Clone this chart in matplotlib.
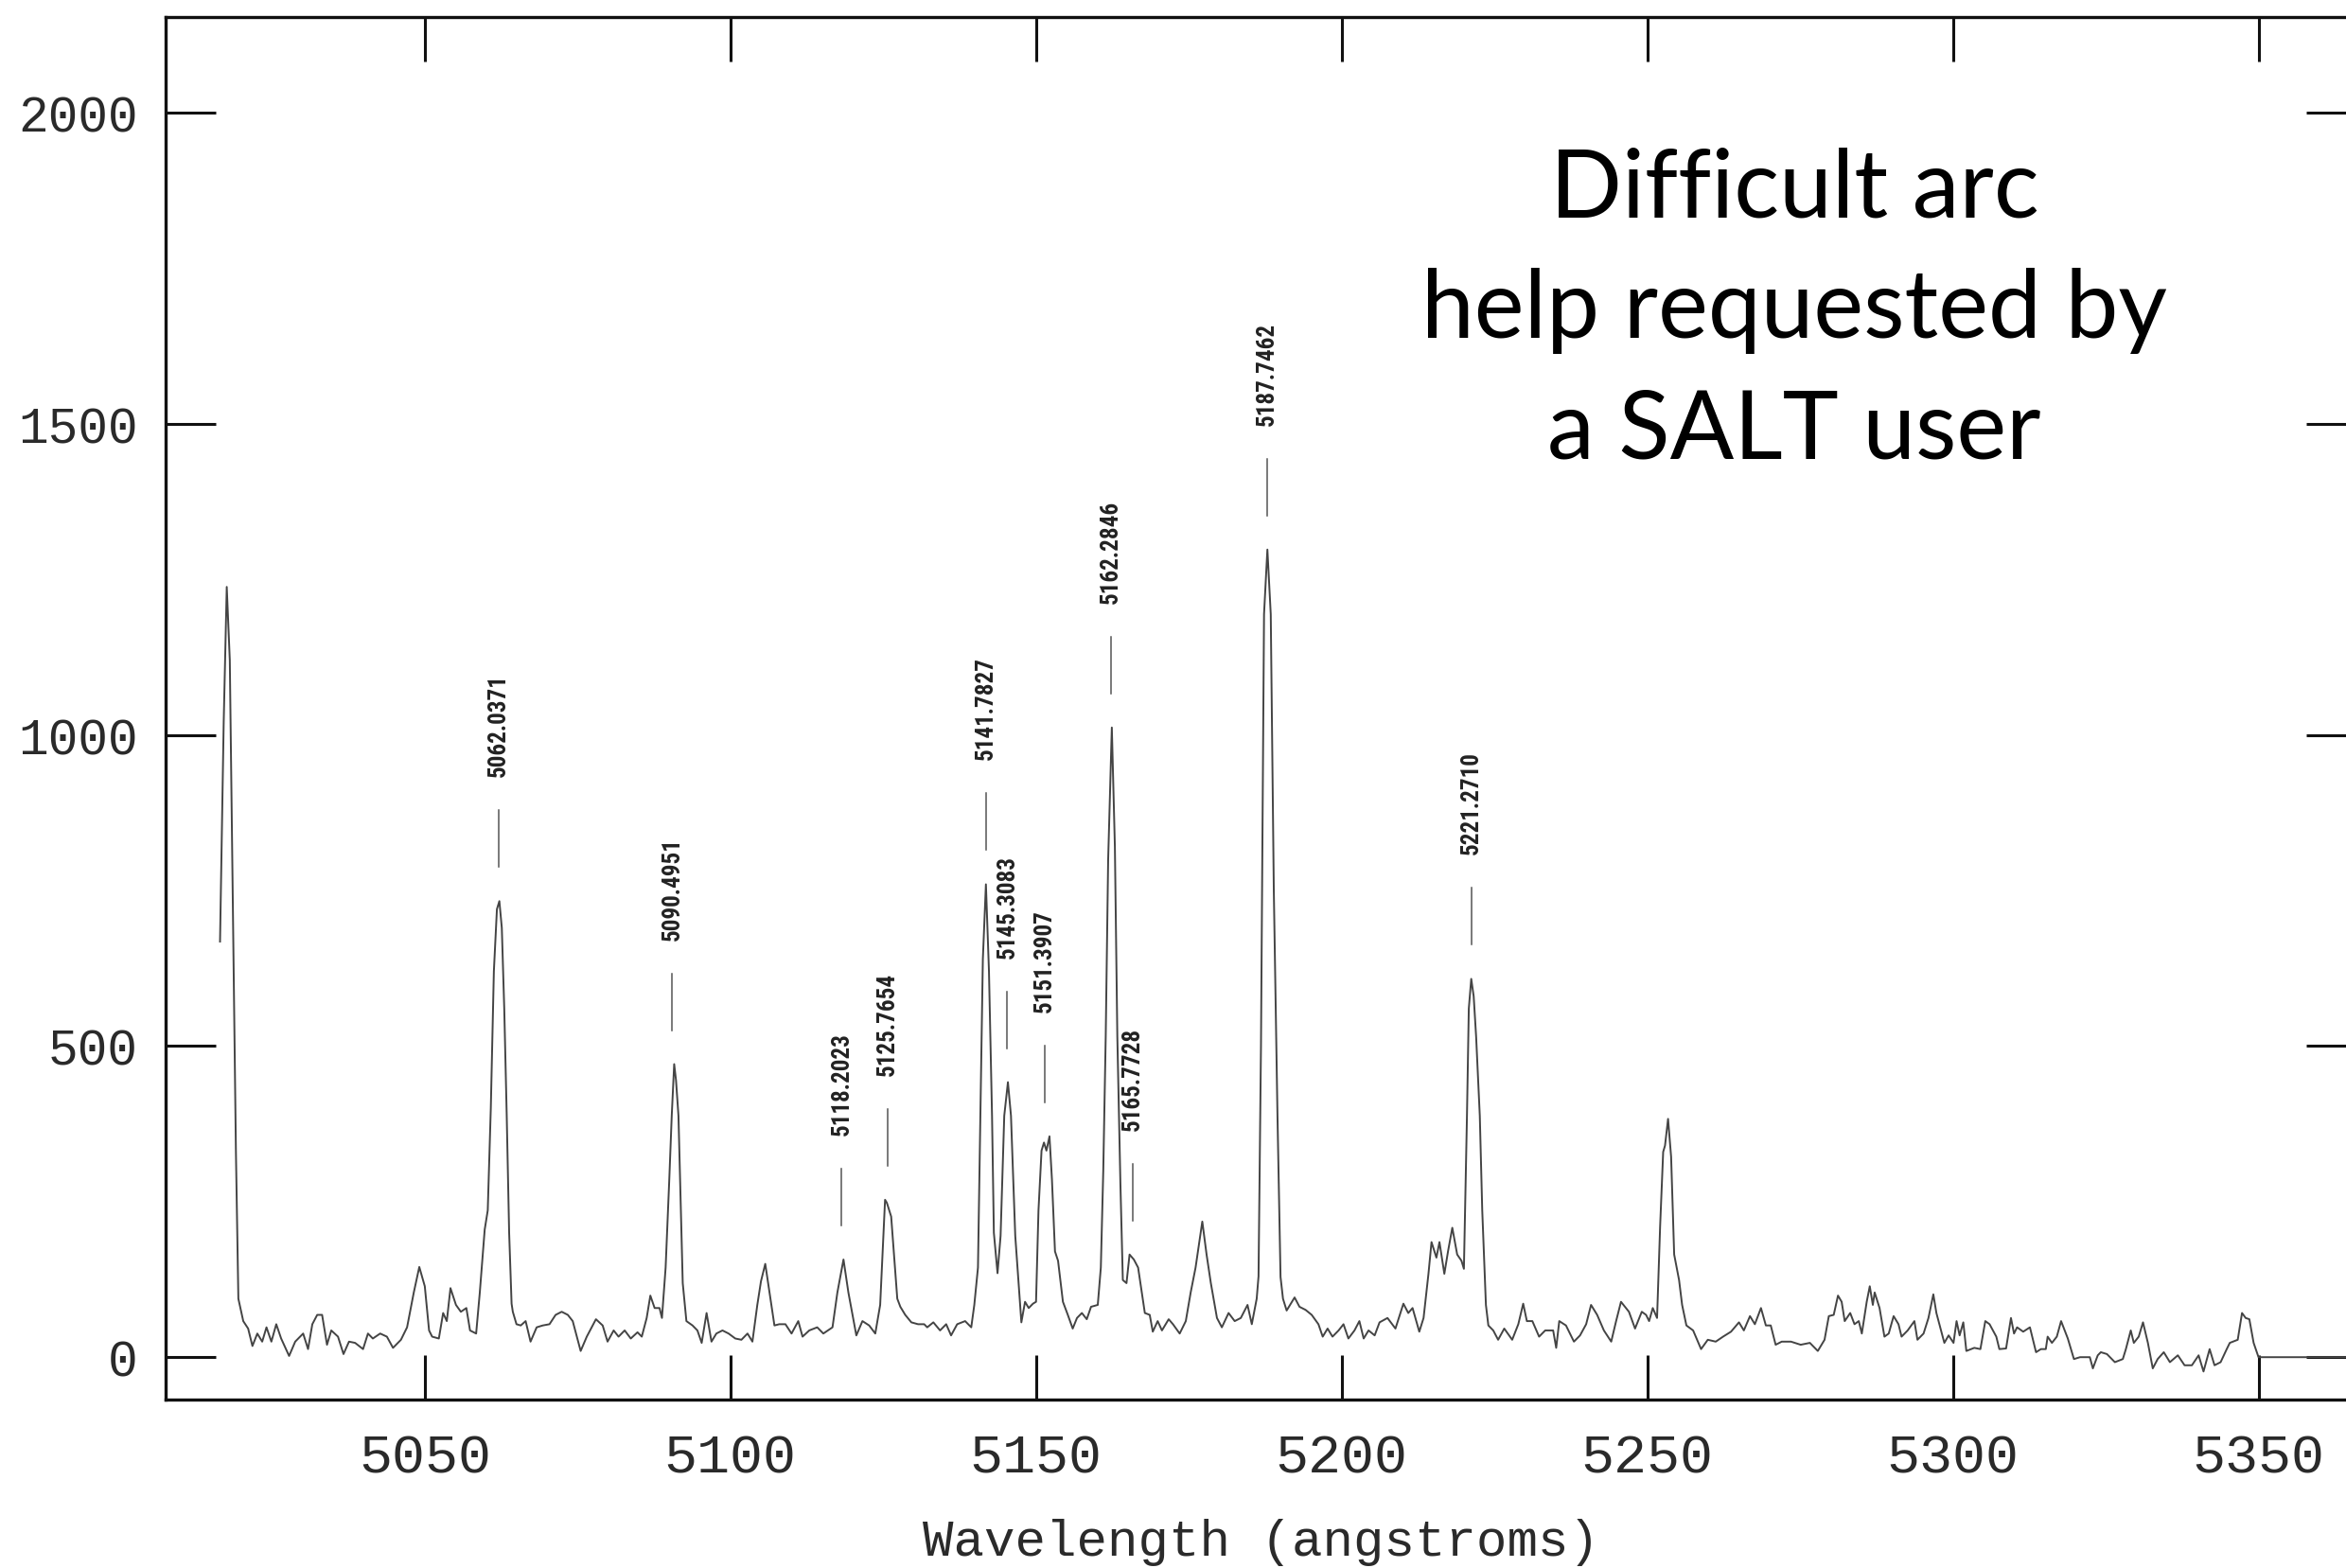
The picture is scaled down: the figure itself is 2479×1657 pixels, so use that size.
import matplotlib.pyplot as plt
from matplotlib import font_manager

# arc spectrum (wavelength in angstroms, counts)
wave = [5016.5, 5017.1, 5017.6, 5018.1, 5018.6, 5019.1, 5019.5, 5020.3, 5021.1, 5021.8,
        5022.6, 5023.4, 5024.1, 5024.9, 5025.7, 5026.5, 5027.8, 5028.8, 5030.1, 5030.9,
        5031.6, 5032.4, 5033.2, 5034.0, 5034.7, 5035.8, 5036.7, 5037.6, 5038.6, 5039.9,
        5040.7, 5041.5, 5042.7, 5043.8, 5044.8, 5046.1, 5047.1, 5048.2, 5049.1, 5050.0,
        5050.7, 5051.2, 5052.3, 5053.0, 5053.6, 5054.2, 5055.1, 5055.9, 5056.8, 5057.4,
        5058.4, 5059.0, 5059.8, 5060.3, 5060.8, 5061.3, 5061.8, 5062.2, 5062.6, 5063.0,
        5063.4, 5063.8, 5064.2, 5064.4, 5065.0, 5065.7, 5066.5, 5067.3, 5068.3, 5069.3,
        5070.4, 5071.4, 5072.4, 5073.4, 5074.2, 5075.5, 5076.5, 5078.0, 5079.1, 5079.9,
        5080.9, 5081.7, 5082.7, 5083.7, 5084.8, 5085.5, 5086.3, 5086.9, 5087.6, 5088.4,
        5088.8, 5089.4, 5090.0, 5090.4, 5090.8, 5091.1, 5091.5, 5092.2, 5092.8, 5093.8,
        5094.6, 5095.3, 5096.1, 5096.9, 5097.7, 5098.7, 5099.7, 5100.8, 5101.8, 5102.8,
        5103.6, 5104.4, 5105.0, 5105.7, 5106.4, 5107.2, 5108.0, 5109.0, 5110.0, 5111.1,
        5111.8, 5112.9, 5114.2, 5115.2, 5116.7, 5117.5, 5118.5, 5119.3, 5120.6, 5121.6,
        5122.7, 5123.7, 5124.5, 5125.3, 5125.6, 5126.3, 5127.3, 5127.8, 5128.6, 5129.6,
        5130.7, 5131.7, 5132.2, 5133.2, 5134.3, 5135.3, 5136.1, 5137.1, 5138.4, 5139.4,
        5139.9, 5140.5, 5140.9, 5141.3, 5141.8, 5142.3, 5142.8, 5143.1, 5143.7, 5144.2,
        5144.8, 5145.4, 5145.9, 5146.6, 5147.6, 5148.2, 5148.8, 5149.5, 5150.0, 5150.4,
        5150.9, 5151.3, 5151.7, 5152.2, 5152.6, 5153.1, 5153.6, 5154.4, 5155.2, 5156.0,
        5156.7, 5157.5, 5158.3, 5159.0, 5160.1, 5160.6, 5161.0, 5161.4, 5161.8, 5162.4,
        5162.9, 5163.3, 5163.8, 5164.2, 5164.8, 5165.3, 5166.0, 5166.7, 5167.8, 5168.6,
        5169.1, 5169.9, 5170.6, 5171.7, 5172.4, 5173.5, 5174.5, 5175.3, 5176.1, 5177.2,
        5177.9, 5178.6, 5179.6, 5180.4, 5181.5, 5182.5, 5183.5, 5184.6, 5185.3, 5186.1,
        5186.4, 5186.8, 5187.3, 5187.85, 5188.4, 5188.9, 5189.5, 5190.0, 5190.4, 5191.0,
        5192.3, 5193.1, 5194.1, 5195.1, 5196.2, 5196.9, 5197.7, 5198.5, 5199.5, 5200.3,
        5201.1, 5202.1, 5202.9, 5203.6, 5204.4, 5205.4, 5206.2, 5207.5, 5208.8, 5210.1,
        5210.9, 5211.6, 5212.7, 5213.4, 5214.2, 5214.7, 5215.5, 5216.0, 5216.8, 5217.4,
        5218.1, 5218.9, 5219.6, 5220.0, 5220.5, 5220.8, 5221.2, 5221.6, 5222.0, 5222.6,
        5223.0, 5223.6, 5224.0, 5224.8, 5225.6, 5226.6, 5227.9, 5228.9, 5229.7, 5230.3,
        5231.2, 5232.3, 5233.3, 5234.6, 5235.1, 5235.6, 5236.7, 5238.0, 5239.0, 5240.0,
        5240.8, 5241.8, 5242.9, 5244.1, 5244.9, 5245.7, 5247.0, 5248.0, 5249.1, 5249.8,
        5250.3, 5250.9, 5251.6, 5252.1, 5252.6, 5252.9, 5253.4, 5253.9, 5254.4, 5255.2,
        5255.7, 5256.4, 5257.5, 5258.8, 5259.9, 5261.2, 5262.4, 5263.7, 5265.0, 5265.8,
        5266.8, 5267.6, 5268.6, 5269.4, 5270.2, 5271.0, 5272.0, 5273.5, 5275.1, 5276.6,
        5277.9, 5279.0, 5279.7, 5280.5, 5281.2, 5281.8, 5282.3, 5283.2, 5283.9, 5284.6,
        5285.1, 5285.9, 5286.4, 5286.9, 5287.2, 5288.0, 5288.8, 5289.5, 5290.3, 5291.1,
        5291.6, 5292.6, 5293.7, 5294.2, 5295.2, 5296.0, 5296.8, 5297.3, 5298.6, 5299.3,
        5300.1, 5300.6, 5301.1, 5301.7, 5302.2, 5303.5, 5304.5, 5305.3, 5306.0, 5307.1,
        5307.6, 5308.7, 5309.5, 5310.0, 5310.5, 5311.5, 5312.6, 5313.6, 5314.4, 5315.2,
        5315.5, 5316.2, 5317.0, 5317.7, 5318.8, 5319.8, 5320.8, 5322.4, 5322.9, 5323.7,
        5324.2, 5325.2, 5326.5, 5327.8, 5328.3, 5329.1, 5329.6, 5330.4, 5331.1, 5331.9,
        5332.7, 5333.5, 5334.5, 5335.5, 5336.8, 5337.9, 5339.1, 5340.2, 5341.0, 5342.0,
        5342.8, 5343.8, 5344.8, 5345.3, 5346.6, 5347.3, 5347.9, 5348.5, 5349.2, 5350.0,
        5370.0]
flux = [668, 1020, 1238, 1120, 720, 330, 94, 58, 46, 18,
        38, 25, 48, 25, 53, 30, 2, 25, 38, 13,
        53, 68, 68, 20, 43, 33, 5, 25, 23, 13,
        38, 30, 38, 33, 15, 28, 48, 104, 145, 114,
        43, 33, 30, 71, 58, 111, 84, 73, 79, 43,
        38, 104, 205, 236, 400, 620, 720, 733, 690, 560,
        390, 200, 86, 73, 53, 51, 58, 25, 48, 51,
        53, 68, 73, 68, 58, 10, 33, 61, 51, 25,
        43, 33, 43, 30, 40, 33, 63, 99, 79, 79,
        63, 144, 286, 388, 471, 445, 388, 119, 58, 51,
        43, 23, 71, 25, 38, 43, 38, 30, 28, 38,
        25, 84, 122, 150, 104, 51, 53, 53, 38, 58,
        33, 43, 48, 38, 48, 104, 157, 104, 35, 58,
        51, 38, 84, 253, 248, 226, 94, 81, 68, 56,
        53, 53, 48, 56, 43, 53, 35, 53, 58, 48,
        84, 144, 388, 640, 760, 620, 388, 200, 135, 195,
        388, 442, 388, 195, 56, 89, 79, 86, 89, 236,
        332, 345, 332, 355, 286, 170, 155, 89, 68, 46,
        63, 71, 61, 81, 84, 144, 300, 515, 800, 1012,
        820, 515, 280, 124, 119, 165, 157, 144, 71, 68,
        41, 58, 43, 61, 53, 38, 58, 104, 144, 218,
        165, 119, 63, 48, 71, 58, 63, 84, 53, 94,
        130, 500, 1194, 1298, 1194, 750, 388, 129, 94, 75,
        96, 81, 76, 68, 53, 33, 46, 33, 43, 53,
        30, 43, 58, 30, 43, 35, 56, 63, 46, 86,
        71, 79, 41, 63, 134, 185, 160, 185, 134, 170,
        208, 165, 155, 142, 388, 560, 608, 580, 515, 388,
        236, 84, 51, 43, 28, 46, 28, 53, 86, 58,
        58, 33, 43, 43, 15, 58, 51, 25, 35, 53,
        84, 68, 43, 25, 58, 89, 73, 46, 73, 68,
        58, 79, 63, 210, 330, 340, 383, 322, 165, 124,
        84, 51, 43, 13, 28, 25, 33, 41, 56, 43,
        66, 53, 79, 51, 51, 20, 25, 25, 20, 23,
        10, 28, 66, 68, 99, 89, 58, 71, 53, 58,
        38, 89, 114, 84, 104, 79, 33, 38, 66, 53,
        33, 43, 58, 28, 38, 63, 101, 71, 23, 35,
        23, 58, 35, 56, 10, 15, 13, 58, 53, 33,
        13, 14, 63, 38, 48, 41, 48, 8, 13, 13,
        33, 23, 33, 58, 30, -3, 0, 0, -18, 3,
        8, 5, -8, -3, 13, 43, 23, 33, 56, 23,
        -18, -3, 8, -8, 3, -13, -13, 3, -23, 13,
        -13, -8, 13, 23, 28, 71, 63, 61, 23, 0,
        0]

# identified arc lines
line_ids = [5062.0371, 5090.4951, 5118.2023, 5125.7654, 5141.7827, 5145.3083,
            5151.3907, 5162.2846, 5165.7728, 5187.7462, 5221.2710]

x_ticks = [5050, 5100, 5150, 5200, 5250, 5300, 5350]
y_ticks = [0, 500, 1000, 1500, 2000]
note_lines = ['Difficult arc', 'help requested by', 'a SALT user']


def first_font(names):
    for n in names:
        try:
            font_manager.findfont(font_manager.FontProperties(family=n), fallback_to_default=False)
            return n
        except ValueError:
            pass
    return 'DejaVu Sans'


mono = first_font(['Liberation Mono', 'DejaVu Sans Mono'])
narrow = first_font(['Liberation Sans Narrow', 'DejaVu Sans Condensed', 'Roboto Condensed',
                     'Open Sans Condensed', 'Liberation Sans'])
plt.rcParams['font.family'] = [mono, 'DejaVu Sans']

fig = plt.figure(figsize=(24.79, 16.58), dpi=100)
ax = fig.add_axes([0.0706, 0.1074, 0.9338, 0.8812])

ax.plot(wave, flux, color='#444444', lw=1.4)
ax.set_xlim(5007.6, 5366)
ax.set_ylim(-68, 2154)

ax.set_xticks(x_ticks)
ax.set_yticks(y_ticks)
ax.tick_params(direction='in', top=True, right=True, width=2.2, color='#111111', labelcolor='#2a2a2a')
ax.tick_params(axis='x', length=34, pad=25, labelsize=42)
ax.tick_params(axis='y', length=38, pad=21, labelsize=38)
for s in ax.spines.values():
    s.set_linewidth(2.4)
    s.set_color('#111111')

ax.set_xlabel('Wavelength (angstroms)', fontsize=39, color='#2a2a2a')
ax.xaxis.set_label_coords(0.5, -0.1025)
ax.xaxis.label.set_va('center')

# pixels per data unit in y, for offsets above each peak
ppu = ax.get_position().height * fig.get_figheight() * fig.dpi / (2154 + 68)
gap, tick_len = 36, 60

labels = []
for w in line_ids:
    peak = max(f for x, f in zip(wave, flux) if abs(x - w) <= 1.0)
    y0 = peak + gap / ppu
    y1 = y0 + tick_len / ppu
    ax.plot([w, w], [y0, y1], color='#555555', lw=1.1)
    t = ax.text(w, y1 + gap / ppu, f'{w:.4f}', rotation=90, ha='center', va='bottom',
                fontsize=20, family=narrow, fontweight='bold', color='#222222')
    labels.append(t)

# fit label size so each reads ~109 px long like the original
fig.canvas.draw()
bb = labels[0].get_window_extent(fig.canvas.get_renderer())
scale = 109.0 / bb.height
for t in labels:
    t.set_fontsize(20 * scale)

for s, yb in zip(note_lines, [0.8613, 0.7847, 0.7075]):
    fig.text(0.7648, yb, s, family='Lato', fontsize=72, ha='center', va='baseline', color='black')

fig.savefig('out.png', dpi=100)
